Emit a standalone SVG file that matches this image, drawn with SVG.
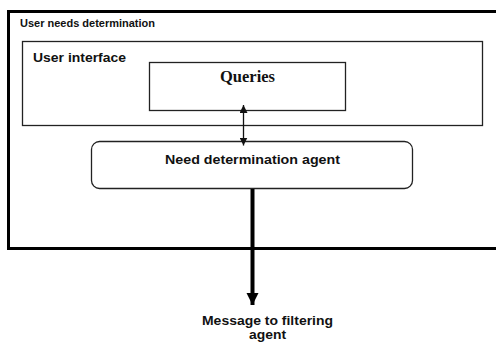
<svg xmlns="http://www.w3.org/2000/svg" width="496" height="343" viewBox="0 0 496 343">
<style>
.box{fill:#fff;stroke:#222;stroke-width:1.3}
.cal{font-family:"Liberation Sans",Arial,sans-serif;font-weight:bold;fill:#111}
.tnr{font-family:"Liberation Serif","Times New Roman",serif;font-weight:bold;fill:#111}
</style>
<defs>
<marker id="ah" markerWidth="8" markerHeight="8" refX="8" refY="4" orient="auto" markerUnits="userSpaceOnUse"><path d="M0,0 L8,4 L0,8 Z" fill="#111"/></marker>
<marker id="ahs" markerWidth="8" markerHeight="8" refX="0" refY="4" orient="auto" markerUnits="userSpaceOnUse"><path d="M8,0 L0,4 L8,8 Z" fill="#111"/></marker>
<marker id="big" markerWidth="12" markerHeight="13" refX="12" refY="6" orient="auto" markerUnits="userSpaceOnUse"><path d="M0,0 L12,6 L0,12 Z" fill="#000"/></marker>
</defs>
<rect width="496" height="343" fill="#fff"/>
<g id="outer">
<rect x="8.5" y="11.5" width="492" height="237" fill="#fff" stroke="#000" stroke-width="3"/>
<text class="cal" x="20" y="27" font-size="10.5" textLength="135" lengthAdjust="spacingAndGlyphs">User needs determination</text>
</g>
<g id="ui">
<rect class="box" x="22.5" y="41.5" width="460" height="84"/>
<text class="cal" x="33" y="62" font-size="13.5" textLength="93" lengthAdjust="spacingAndGlyphs">User interface</text>
</g>
<g id="queries">
<rect class="box" x="149.5" y="62.5" width="196" height="48"/>
<text class="tnr" x="247.5" y="82" font-size="16" text-anchor="middle" textLength="55" lengthAdjust="spacingAndGlyphs">Queries</text>
</g>
<g id="nda">
<rect class="box" x="91.5" y="141.5" width="321" height="47" rx="8" ry="8"/>
<text class="cal" x="252.5" y="164" font-size="13.5" text-anchor="middle" textLength="175" lengthAdjust="spacingAndGlyphs">Need determination agent</text>
</g>
<g id="msg">
<text class="cal" x="267.5" y="325" font-size="13" text-anchor="middle" textLength="131" lengthAdjust="spacingAndGlyphs">Message to filtering</text>
<text class="cal" x="267.5" y="339" font-size="13" text-anchor="middle" textLength="37" lengthAdjust="spacingAndGlyphs">agent</text>
</g>
<g id="connectors">
<line x1="243.5" y1="105" x2="243.5" y2="145.5" stroke="#111" stroke-width="1.3" marker-start="url(#ahs)" marker-end="url(#ah)"/>
<line x1="252.5" y1="189" x2="252.5" y2="305" stroke="#000" stroke-width="4" marker-end="url(#big)"/>
</g>
</svg>
